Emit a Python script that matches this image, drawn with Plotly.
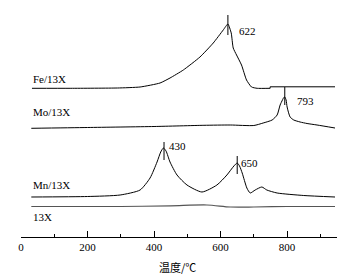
import plotly.graph_objects as go

# Temperature (°C) and signal heights (a.u., stacked with offsets)
fe_t = [33, 150, 290, 358, 418, 448, 488, 538, 578, 608, 622, 632, 638, 648, 663, 678, 693, 710, 749]
fe_h = [148.7, 148.7, 149, 150, 154, 159, 167, 180, 194, 207, 213, 204, 189, 182, 172, 157, 150, 148.7, 148.7]
fe_tail_t = [749, 749, 944]
fe_tail_h = [148.7, 150.2, 150.2]

mo_t = [31, 200, 400, 550, 629, 700, 728, 755, 770, 779, 786, 790, 793, 797, 800, 809, 820, 839, 860, 890, 944]
mo_h = [108.7, 109.5, 110.5, 111.7, 112, 111.5, 114, 117, 122, 132, 137, 139.5, 140, 137, 130, 120, 117, 115, 113.5, 112, 109]

mn_t = [31, 200, 298, 358, 388, 409, 420, 428, 436, 448, 469, 499, 544, 589, 619, 640, 650, 657, 665, 679, 689, 704, 724, 739, 770, 850, 944]
mn_h = [40, 40.5, 42, 47, 59, 75, 85, 89, 86, 75, 62, 52, 45, 52, 62, 71, 74, 71, 64, 49, 44, 47, 50, 47, 44, 41.5, 40]

x13_t = [31, 300, 450, 559, 629, 700, 800, 944]
x13_h = [30.5, 30.5, 31.2, 32, 30, 30, 30.5, 30.5]

peak_t = [622, 793, 430, 650]
peak_lo = [202, 132, 77, 63]
peak_hi = [222, 150, 95, 81]
peak_labels = ["622", "793", "430", "650"]
peak_label_t = [653, 827, 442, 659]
peak_label_h = [206, 136, 91, 74]

series_names = ["Fe/13X", "Mo/13X", "Mn/13X", "13X"]
series_label_h = [158, 125, 52, 20]

tick_vals = [0, 200, 400, 600, 800, 950]
tick_text = ["0", "200", "400", "600", "800", ""]
x_title = "温度/℃"

SERIF = "Liberation Serif"
line = dict(color="black", width=1)

fig = go.Figure()
fig.add_trace(go.Scatter(x=fe_t, y=fe_h, mode="lines", line=dict(color="black", width=1, shape="spline", smoothing=0.5)))
fig.add_trace(go.Scatter(x=fe_tail_t, y=fe_tail_h, mode="lines", line=line))
fig.add_trace(go.Scatter(x=mo_t, y=mo_h, mode="lines", line=dict(color="black", width=1, shape="spline", smoothing=0.6)))
fig.add_trace(go.Scatter(x=mn_t, y=mn_h, mode="lines", line=dict(color="black", width=1, shape="spline", smoothing=0.6)))
fig.add_trace(go.Scatter(x=x13_t, y=x13_h, mode="lines", line=dict(color="#555", width=1.2, shape="spline", smoothing=0.8)))

for t, lo, hi in zip(peak_t, peak_lo, peak_hi):
    fig.add_trace(go.Scatter(x=[t, t], y=[lo, hi], mode="lines", line=line))

for t, h, txt in zip(peak_label_t, peak_label_h, peak_labels):
    fig.add_annotation(x=t, y=h, text=txt, showarrow=False, xanchor="left", yanchor="middle",
                       borderpad=0, font=dict(family=SERIF, size=11, color="black"))

for name, h in zip(series_names, series_label_h):
    fig.add_annotation(x=33, y=h, text=name, showarrow=False, xanchor="left", yanchor="middle",
                       borderpad=0, font=dict(family=SERIF, size=11, color="black"))

fig.add_annotation(x=0.496, y=-0.127, xref="paper", yref="paper", text=x_title, showarrow=False,
                   xanchor="center", yanchor="middle",
                   font=dict(family="Noto Sans CJK SC", size=11, color="black"))

fig.update_layout(
    width=355, height=276,
    margin=dict(l=21, r=18, t=0, b=39),
    paper_bgcolor="white", plot_bgcolor="white",
    showlegend=False,
    font=dict(family=SERIF, color="black"),
    xaxis=dict(range=[0, 950], showgrid=False, zeroline=False, showline=True, linecolor="black", linewidth=1,
               ticks="inside", ticklen=6, tickcolor="black", tickvals=tick_vals, ticktext=tick_text,
               minor=dict(tickvals=[100, 300, 500, 700, 900], ticks="inside", ticklen=3, tickcolor="black"),
               tickfont=dict(family=SERIF, size=11, color="black")),
    yaxis=dict(range=[0, 237], visible=False),
)
fig.write_html("out.html", config={"displayModeBar": False},
               post_script="document.body.style.margin='0';document.body.style.overflow='hidden';")
